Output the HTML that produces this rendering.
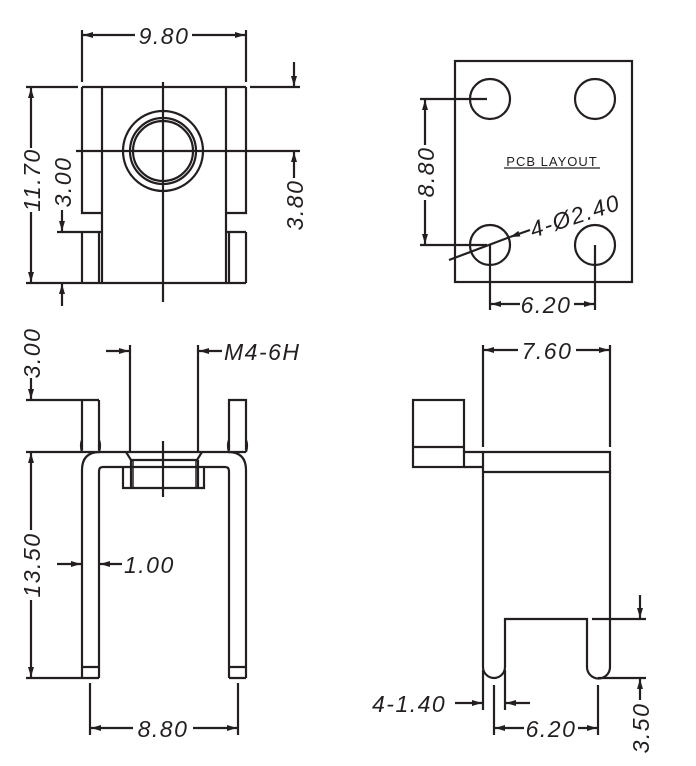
<!DOCTYPE html>
<html><head><style>
html,body{margin:0;padding:0;background:#fff;}
svg{display:block;}
text{font-family:"Liberation Sans",sans-serif;font-style:italic;font-size:23px;letter-spacing:1.5px;fill:#231f20;}
</style></head><body>
<svg width="696" height="766" viewBox="0 0 696 766" xmlns="http://www.w3.org/2000/svg">
<defs>
<marker id="a" viewBox="0 0 10 6" refX="10" refY="3" markerWidth="10" markerHeight="6" markerUnits="userSpaceOnUse" orient="auto"><path d="M0,0 L10,3 L0,6 z" fill="#231f20"/></marker>
</defs>
<g stroke="#231f20" stroke-width="2.2" fill="none">
<!-- TOP LEFT VIEW -->
<line x1="82" y1="30" x2="82" y2="82"/>
<line x1="246" y1="30" x2="246" y2="82"/>
<line x1="135" y1="35" x2="83" y2="35" marker-end="url(#a)"/>
<line x1="192" y1="35" x2="245" y2="35" marker-end="url(#a)"/>
<line x1="26" y1="87" x2="78" y2="87"/>
<line x1="82" y1="87" x2="246" y2="87"/>
<line x1="250" y1="87" x2="300" y2="87"/>
<path d="M82,87 V213 H102"/>
<path d="M246,87 V213 H226"/>
<line x1="102" y1="87" x2="102" y2="283"/>
<line x1="226" y1="87" x2="226" y2="283"/>
<line x1="57" y1="232" x2="102" y2="232"/>
<line x1="226" y1="232" x2="246" y2="232"/>
<line x1="82" y1="232" x2="82" y2="283"/>
<line x1="99" y1="232" x2="99" y2="283"/>
<line x1="246" y1="232" x2="246" y2="283"/>
<line x1="229" y1="232" x2="229" y2="283"/>
<line x1="26" y1="283" x2="246" y2="283"/>
<line x1="163" y1="82" x2="163" y2="302"/>
<line x1="76" y1="151" x2="300" y2="151"/>
<circle cx="163" cy="151" r="40"/>
<circle cx="163" cy="151" r="33"/>
<circle cx="163" cy="151" r="30"/>
<line x1="31" y1="148" x2="31" y2="88" marker-end="url(#a)"/>
<line x1="31" y1="212" x2="31" y2="282" marker-end="url(#a)"/>
<line x1="62" y1="210" x2="62" y2="231" marker-end="url(#a)"/>
<line x1="62" y1="306" x2="62" y2="284" marker-end="url(#a)"/>
<line x1="294" y1="62" x2="294" y2="86" marker-end="url(#a)"/>
<line x1="294" y1="178" x2="294" y2="152" marker-end="url(#a)"/>
<!-- PCB LAYOUT -->
<rect x="455" y="61" width="177" height="221"/>
<circle cx="490" cy="99" r="20"/>
<circle cx="595" cy="99" r="20"/>
<circle cx="490" cy="245" r="20"/>
<circle cx="595" cy="245" r="20"/>
<line x1="420" y1="99" x2="487" y2="99"/>
<line x1="420" y1="245" x2="487" y2="245"/>
<line x1="425" y1="145" x2="425" y2="100" marker-end="url(#a)"/>
<line x1="425" y1="200" x2="425" y2="244" marker-end="url(#a)"/>
<line x1="504" y1="168" x2="600" y2="168" stroke-width="1.2"/>
<line x1="449" y1="260" x2="510" y2="237"/>
<line x1="530" y1="230" x2="510" y2="237" marker-end="url(#a)"/>
<line x1="490" y1="245" x2="490" y2="310"/>
<line x1="595" y1="245" x2="595" y2="310"/>
<line x1="520" y1="304" x2="491" y2="304" marker-end="url(#a)"/>
<line x1="574" y1="304" x2="594" y2="304" marker-end="url(#a)"/>
<!-- BOTTOM LEFT VIEW -->
<line x1="31" y1="378" x2="31" y2="399" marker-end="url(#a)"/>
<line x1="26" y1="400" x2="99" y2="400"/>
<line x1="82" y1="400" x2="82" y2="450"/>
<line x1="99" y1="400" x2="99" y2="450"/>
<path d="M229,450 V400 H246 V450"/>
<line x1="26" y1="452" x2="246" y2="452"/>
<path d="M82,678 V470 Q82,452 100,452"/>
<path d="M246,678 V470 Q246,452 228,452"/>
<path d="M99,678 V471 Q99,467 103,467 H225 Q229,467 229,471 V678"/>
<path d="M82,452 Q80,445 82,440 M99,452 Q101,445 99,440"/>
<path d="M229,452 Q227,445 229,440 M246,452 Q248,445 246,440"/>
<path d="M123,467 V488 H204 V467"/>
<path d="M126,452 L131,460 H197 L202,452"/>
<line x1="131" y1="460" x2="131" y2="488"/>
<line x1="133" y1="460" x2="133" y2="488" stroke-width="1.5"/>
<line x1="196" y1="460" x2="196" y2="488" stroke-width="1.5"/>
<line x1="198" y1="460" x2="198" y2="488"/>
<line x1="163" y1="441" x2="163" y2="497"/>
<line x1="130" y1="345" x2="130" y2="452"/>
<line x1="198" y1="345" x2="198" y2="452"/>
<line x1="106" y1="351" x2="129" y2="351" marker-end="url(#a)"/>
<line x1="222" y1="351" x2="199" y2="351" marker-end="url(#a)"/>
<line x1="82" y1="667" x2="99" y2="667"/>
<line x1="229" y1="667" x2="246" y2="667"/>
<line x1="26" y1="678" x2="99" y2="678"/>
<line x1="229" y1="678" x2="246" y2="678"/>
<line x1="31" y1="530" x2="31" y2="453" marker-end="url(#a)"/>
<line x1="31" y1="600" x2="31" y2="677" marker-end="url(#a)"/>
<line x1="57" y1="564" x2="81" y2="564" marker-end="url(#a)"/>
<line x1="122" y1="564" x2="100" y2="564" marker-end="url(#a)"/>
<line x1="90" y1="683" x2="90" y2="735"/>
<line x1="238" y1="683" x2="238" y2="735"/>
<line x1="133" y1="728" x2="91" y2="728" marker-end="url(#a)"/>
<line x1="193" y1="728" x2="237" y2="728" marker-end="url(#a)"/>
<!-- BOTTOM RIGHT VIEW -->
<line x1="483" y1="345" x2="483" y2="447"/>
<line x1="610" y1="345" x2="610" y2="447"/>
<line x1="518" y1="350" x2="484" y2="350" marker-end="url(#a)"/>
<line x1="576" y1="350" x2="609" y2="350" marker-end="url(#a)"/>
<rect x="413" y="400" width="51" height="67"/>
<line x1="413" y1="447" x2="464" y2="447"/>
<path d="M464,452 H610 V472 H483"/>
<line x1="464" y1="467" x2="483" y2="467"/>
<path d="M483,452 V667 A11,11 0 0 0 505,667 V619 H587 V667 A11.5,11.5 0 0 0 610,667 V472"/>
<line x1="592" y1="619" x2="646" y2="619"/>
<line x1="598" y1="678" x2="646" y2="678"/>
<line x1="640" y1="595" x2="640" y2="618" marker-end="url(#a)"/>
<line x1="640" y1="700" x2="640" y2="679" marker-end="url(#a)"/>
<line x1="483" y1="670" x2="483" y2="710"/>
<line x1="505" y1="670" x2="505" y2="710"/>
<line x1="455" y1="703" x2="482" y2="703" marker-end="url(#a)"/>
<line x1="530" y1="703" x2="506" y2="703" marker-end="url(#a)"/>
<line x1="494" y1="685" x2="494" y2="735"/>
<line x1="598" y1="685" x2="598" y2="735"/>
<line x1="524" y1="728" x2="495" y2="728" marker-end="url(#a)"/>
<line x1="578" y1="728" x2="597" y2="728" marker-end="url(#a)"/>
</g>
<g>
<text x="164" y="44" text-anchor="middle">9.80</text>
<text transform="translate(40,180) rotate(-90)" text-anchor="middle">11.70</text>
<text transform="translate(71,182) rotate(-90)" text-anchor="middle">3.00</text>
<text transform="translate(303,205) rotate(-90)" text-anchor="middle">3.80</text>
<text transform="translate(434,172) rotate(-90)" text-anchor="middle">8.80</text>
<text x="552" y="166" text-anchor="middle" style="font-style:normal;font-size:13px;letter-spacing:1px">PCB LAYOUT</text>
<text transform="translate(533,238) rotate(-18)">4-Ø2.40</text>
<text x="546" y="313" text-anchor="middle">6.20</text>
<text transform="translate(40,353) rotate(-90)" text-anchor="middle">3.00</text>
<text x="224" y="360">M4-6H</text>
<text transform="translate(40,565) rotate(-90)" text-anchor="middle">13.50</text>
<text x="124" y="573">1.00</text>
<text x="163" y="737" text-anchor="middle">8.80</text>
<text x="547" y="359" text-anchor="middle">7.60</text>
<text x="372" y="712">4-1.40</text>
<text x="551" y="737" text-anchor="middle">6.20</text>
<text transform="translate(649,728) rotate(-90)" text-anchor="middle">3.50</text>
</g>
</svg>
</body></html>
